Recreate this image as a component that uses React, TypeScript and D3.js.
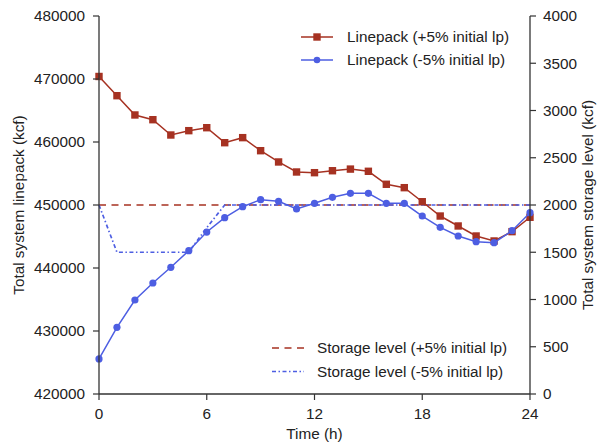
import React from "react";
import * as d3 from "d3";

// hours 0..24
const hours = d3.range(0, 25);

const linepackPlus = [
  470400, 467350, 464290, 463540, 461110, 461800, 462270, 459890, 460690,
  458620, 456830, 455240, 455130, 455440, 455700, 455350, 453290, 452750,
  450520, 448250, 446670, 445080, 444290, 445770, 448050,
];

const linepackMinus = [
  425560, 430580, 434920, 437620, 440110, 442750, 445710, 447990, 449730,
  450850, 450590, 449370, 450270, 451220, 451860, 451860, 450270, 450270,
  448250, 446460, 445080, 444180, 444020, 445920, 448780,
];

const storagePlus = [
  2000, 2000, 2000, 2000, 2000, 2000, 2000, 2000, 2000, 2000, 2000, 2000,
  2000, 2000, 2000, 2000, 2000, 2000, 2000, 2000, 2000, 2000, 2000, 2000, 2000,
];

const storageMinus = [
  2000, 1500, 1500, 1500, 1500, 1500, 1760, 2000, 2000, 2000, 2000, 2000,
  2000, 2000, 2000, 2000, 2000, 2000, 2000, 2000, 2000, 2000, 2000, 2000, 2000,
];

const xTicks = [0, 6, 12, 18, 24];
const leftTicks = [420000, 430000, 440000, 450000, 460000, 470000, 480000];
const rightTicks = [0, 500, 1000, 1500, 2000, 2500, 3000, 3500, 4000];

const RED = "#a63222";
const BLUE = "#4d5ee2";
const AXIS = "#333";
const TEXT = "#222";
const FONT = "'Liberation Sans', Arial, sans-serif";

export default function App() {
  const W = 597;
  const H = 445;
  const m = { left: 99, right: 530, top: 16, bottom: 394 };

  const x = d3.scaleLinear().domain([0, 24]).range([m.left, m.right]);
  const yL = d3.scaleLinear().domain([420000, 480000]).range([m.bottom, m.top]);
  const yR = d3.scaleLinear().domain([0, 4000]).range([m.bottom, m.top]);

  const lineL = d3
    .line<number>()
    .x((_, i) => x(hours[i]))
    .y((d) => yL(d));
  const lineR = d3
    .line<number>()
    .x((_, i) => x(hours[i]))
    .y((d) => yR(d));

  const fs = 15.3;

  return (
    <svg
      width={W}
      height={H}
      style={{ position: "absolute", left: 0, top: 0, background: "#fff" }}
      fontFamily={FONT}
    >
      {/* storage series */}
      <path
        d={lineR(storagePlus) ?? ""}
        fill="none"
        stroke={RED}
        strokeWidth={1.7}
        strokeDasharray="7,5.5"
      />
      <path
        d={lineR(storageMinus) ?? ""}
        fill="none"
        stroke={BLUE}
        strokeWidth={1.7}
        strokeDasharray="4,2.5,1.5,2.5"
      />

      {/* linepack series */}
      <path d={lineL(linepackPlus) ?? ""} fill="none" stroke={RED} strokeWidth={1.5} />
      {linepackPlus.map((v, i) => (
        <rect
          key={"s" + i}
          x={x(hours[i]) - 3.7}
          y={yL(v) - 3.7}
          width={7.4}
          height={7.4}
          fill={RED}
        />
      ))}
      <path d={lineL(linepackMinus) ?? ""} fill="none" stroke={BLUE} strokeWidth={1.5} />
      {linepackMinus.map((v, i) => (
        <circle key={"c" + i} cx={x(hours[i])} cy={yL(v)} r={3.6} fill={BLUE} />
      ))}

      {/* axes */}
      <line x1={m.left} x2={m.left} y1={m.top} y2={m.bottom} stroke={AXIS} strokeWidth={1.3} />
      <line x1={m.right} x2={m.right} y1={m.top} y2={m.bottom} stroke={AXIS} strokeWidth={1.3} />
      <line x1={m.left} x2={m.right} y1={m.bottom} y2={m.bottom} stroke={AXIS} strokeWidth={1.3} />

      {leftTicks.map((t) => (
        <g key={"l" + t}>
          <line x1={m.left - 6} x2={m.left} y1={yL(t)} y2={yL(t)} stroke={AXIS} strokeWidth={1.2} />
          <text x={m.left - 14} y={yL(t)} dy="0.35em" textAnchor="end" fontSize={fs} fill={TEXT}>
            {t}
          </text>
        </g>
      ))}
      {rightTicks.map((t) => (
        <g key={"r" + t}>
          <line x1={m.right} x2={m.right + 6} y1={yR(t)} y2={yR(t)} stroke={AXIS} strokeWidth={1.2} />
          <text x={m.right + 13} y={yR(t)} dy="0.35em" textAnchor="start" fontSize={fs} fill={TEXT}>
            {t}
          </text>
        </g>
      ))}
      {xTicks.map((t) => (
        <g key={"x" + t}>
          <line x1={x(t)} x2={x(t)} y1={m.bottom} y2={m.bottom + 6} stroke={AXIS} strokeWidth={1.2} />
          <text x={x(t)} y={419} textAnchor="middle" fontSize={fs} fill={TEXT}>
            {t}
          </text>
        </g>
      ))}

      <text x={(m.left + m.right) / 2} y={439} textAnchor="middle" fontSize={fs} fill={TEXT}>
        Time (h)
      </text>
      <text
        transform={`translate(24,${(m.top + m.bottom) / 2}) rotate(-90)`}
        textAnchor="middle"
        fontSize={fs}
        fill={TEXT}
      >
        Total system linepack (kcf)
      </text>
      <text
        transform={`translate(593,${(m.top + m.bottom) / 2}) rotate(-90)`}
        textAnchor="middle"
        fontSize={fs}
        fill={TEXT}
      >
        Total system storage level (kcf)
      </text>

      {/* legend: linepack */}
      <g>
        <line x1={301} x2={333} y1={37} y2={37} stroke={RED} strokeWidth={1.5} />
        <rect x={317 - 3.7} y={37 - 3.7} width={7.4} height={7.4} fill={RED} />
        <text x={347} y={37} dy="0.35em" fontSize={fs} fill={TEXT}>
          Linepack (+5% initial lp)
        </text>
        <line x1={301} x2={333} y1={60} y2={60} stroke={BLUE} strokeWidth={1.5} />
        <circle cx={317} cy={60} r={3.3} fill={BLUE} />
        <text x={347} y={60} dy="0.35em" fontSize={fs} fill={TEXT}>
          Linepack (-5% initial lp)
        </text>
      </g>

      {/* legend: storage */}
      <g>
        <line x1={272} x2={304} y1={348} y2={348} stroke={RED} strokeWidth={1.7} strokeDasharray="7,5.5" />
        <text x={317} y={348} dy="0.35em" fontSize={fs} fill={TEXT}>
          Storage level (+5% initial lp)
        </text>
        <line
          x1={272}
          x2={304}
          y1={371.5}
          y2={371.5}
          stroke={BLUE}
          strokeWidth={1.7}
          strokeDasharray="4,2.5,1.5,2.5"
        />
        <text x={317} y={371.5} dy="0.35em" fontSize={fs} fill={TEXT}>
          Storage level (-5% initial lp)
        </text>
      </g>
    </svg>
  );
}
